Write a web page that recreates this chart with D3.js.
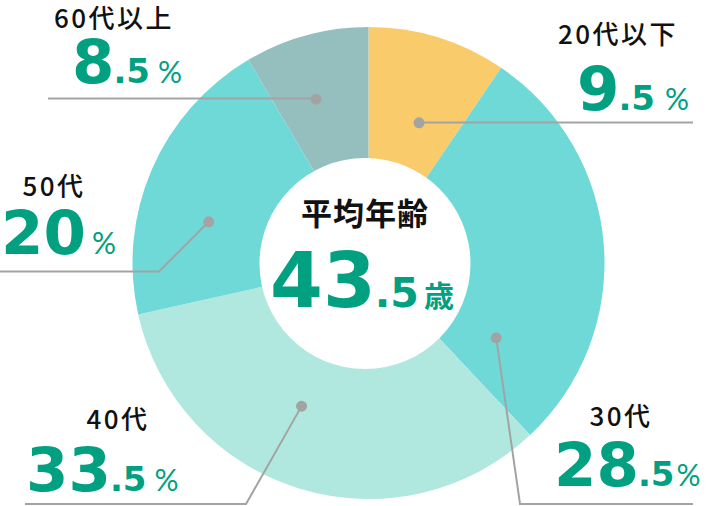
<!DOCTYPE html>
<html>
<head>
<meta charset="utf-8">
<script src="https://cdn.jsdelivr.net/npm/d3@7"></script>
<style>
  html, body { margin: 0; padding: 0; background: #fff; }
  svg { display: block; }
</style>
</head>
<body>
<div id="chart"></div>
<script>
// data
var ageGroups = ["20代以下", "30代", "40代", "50代", "60代以上"];
var shares = [9.5, 28.5, 33.5, 20, 8.5];
var averageAge = 43.5;
var centerTitle = "平均年齢";
var ageUnit = "歳";

var width = 710, height = 506;
var cx = 368.5, cy = 263, outerR = 236;
var numFont = "'DejaVu Sans', Lato, sans-serif";
var jpFont = "'Noto Sans CJK JP', 'Noto Sans', sans-serif";
var green = "#00a080";

var svg = d3.select("#chart").append("svg")
    .attr("width", width)
    .attr("height", height);

var color = d3.scaleOrdinal()
    .domain(ageGroups)
    .range(["#f9cb6a", "#6fd9d8", "#b0e8df", "#6fd9d8", "#95bfbf"]);

var pie = d3.pie().sort(null).value(function(d) { return d; });
var arcs = pie(shares);
var arc = d3.arc().innerRadius(0).outerRadius(outerR);

var g = svg.append("g").attr("transform", "translate(" + cx + "," + cy + ")");

g.selectAll("path.slice")
  .data(arcs)
  .join("path")
    .attr("class", "slice")
    .attr("d", arc)
    .attr("fill", function(d, i) { return color(ageGroups[i]); });

// white hole (slightly off centre like the original)
g.append("circle")
    .attr("cx", -3.5).attr("cy", 0.5)
    .attr("r", 105.5)
    .attr("fill", "#fff");

// layout of leader lines / labels per group
// t = position inside the slice (0..1), r = radius of the dot
var layout = [
  { t: 0.58, r: 149, elbow: null, endX: 693, lineY: 122.5, tx: 618, ty: 44, nx: 577, ny: 110, gap: 10 },
  { t: 0.84, r: 148, elbow: [520, 504], endX: 693, lineY: 504, tx: 621, ty: 426, nx: 554, ny: 486, gap: 2 },
  { t: 0.566, r: 158, elbow: [246, 504], endX: 25, lineY: 504, tx: 118, ty: 429, nx: 26, ny: 491, gap: 8 },
  { t: 0.376, r: 165, elbow: [159, 271.5], endX: 0, lineY: 271.5, tx: 54, ty: 196, nx: 1, ny: 254, gap: 6 },
  { t: 0.42, r: 172, elbow: null, endX: 48, lineY: 98.5, tx: 114, ty: 28, nx: 72, ny: 83, gap: 8 }
];

arcs.forEach(function(a, i) {
  var L = layout[i];
  var ang = a.startAngle + (a.endAngle - a.startAngle) * L.t;
  var px = cx + L.r * Math.sin(ang);
  var py = cy - L.r * Math.cos(ang);

  var pts = [[px, py]];
  if (L.elbow) pts.push(L.elbow);
  else pts.push([px, L.lineY]);
  pts.push([L.endX, L.lineY]);

  svg.append("path")
      .attr("d", d3.line()(pts))
      .attr("fill", "none")
      .attr("stroke", "#a3a3a3")
      .attr("stroke-width", 2);

  svg.append("circle")
      .attr("cx", px).attr("cy", py)
      .attr("r", 5.5)
      .attr("fill", "#a3a3a3");

  // group name
  svg.append("text")
      .attr("x", L.tx).attr("y", L.ty)
      .attr("text-anchor", "middle")
      .style("font-family", jpFont)
      .style("font-weight", 500)
      .style("font-size", "26px")
      .style("letter-spacing", "2.5px")
      .attr("fill", "#111")
      .text(ageGroups[i]);

  // value
  var v = shares[i];
  var intPart = Math.floor(v);
  var dec = v - intPart;
  var t = svg.append("text")
      .attr("x", L.nx).attr("y", L.ny)
      .attr("fill", green);
  t.append("tspan")
      .style("font-family", numFont)
      .style("font-weight", 700)
      .style("font-size", "61px")
      .text(intPart);
  if (dec > 0) {
    t.append("tspan")
        .attr("dx", -1)
        .style("font-family", numFont)
        .style("font-weight", 700)
        .style("font-size", "34px")
        .text("." + String(dec.toFixed(1)).split(".")[1]);
  }
  t.append("tspan")
      .attr("dx", L.gap)
      .style("font-family", "Lato, sans-serif")
      .style("font-weight", 400)
      .style("font-size", "30px")
      .text("%");
});

// centre text
svg.append("text")
    .attr("x", 365).attr("y", 225)
    .attr("text-anchor", "middle")
    .style("font-family", jpFont)
    .style("font-weight", 700)
    .style("font-size", "31px")
    .style("letter-spacing", "1px")
    .attr("fill", "#111")
    .text(centerTitle);

var ageInt = Math.floor(averageAge);
var ageDec = String(averageAge.toFixed(1)).split(".")[1];
var ct = svg.append("text")
    .attr("x", 270).attr("y", 307)
    .attr("fill", green);
ct.append("tspan")
    .style("font-family", numFont)
    .style("font-weight", 700)
    .style("font-size", "76px")
    .text(ageInt);
ct.append("tspan")
    .attr("dx", -1)
    .style("font-family", numFont)
    .style("font-weight", 700)
    .style("font-size", "41px")
    .text("." + ageDec);
ct.append("tspan")
    .attr("dx", 5)
    .style("font-family", jpFont)
    .style("font-weight", 700)
    .style("font-size", "30px")
    .text(ageUnit);
</script>
</body>
</html>
